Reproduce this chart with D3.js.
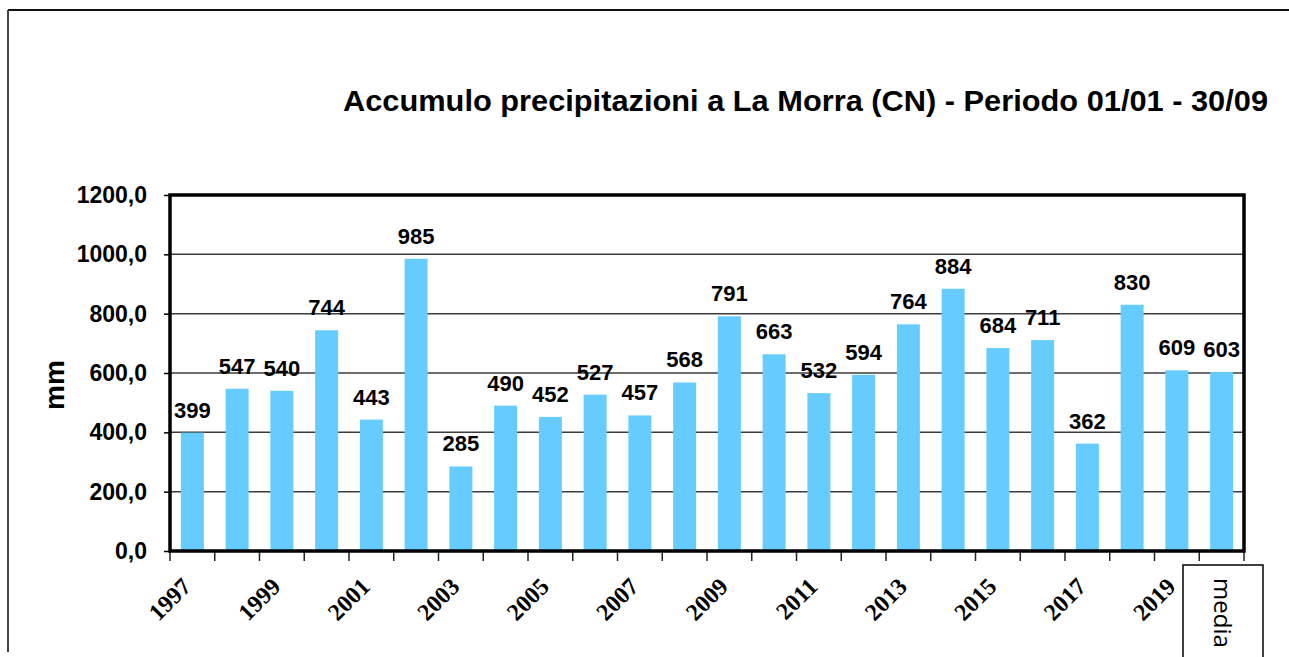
<!DOCTYPE html>
<html>
<head>
<meta charset="utf-8">
<script src="https://cdn.jsdelivr.net/npm/d3@7"></script>
<style>
  body { margin: 0; background: #fff; }
  svg { display: block; }
</style>
</head>
<body>
<svg class="chart-pioggia" width="1289" height="657"></svg>
<script>
//------------------------------------------------------------
//---------------------------DATI-----------------------------
var anni = ["1997","1998","1999","2000","2001","2002","2003","2004","2005","2006",
            "2007","2008","2009","2010","2011","2012","2013","2014","2015","2016",
            "2017","2018","2019","media"];
var valori = [399, 547, 540, 744, 443, 985, 285, 490, 452, 527,
              457, 568, 791, 663, 532, 594, 764, 884, 684, 711,
              362, 830, 609, 603];
var tickY = [0, 200, 400, 600, 800, 1000, 1200];
var titolo = "Accumulo precipitazioni a La Morra (CN) - Periodo 01/01 - 30/09";
var etichettaY = "mm";

var dataset = anni.map(function(a, i) { return {anno: a, mm: valori[i]}; });

var svg = d3.select(".chart-pioggia");
var area = {left: 170, right: 1244, top: 195, bottom: 551};

var xScale = d3.scaleBand().domain(anni).range([area.left, area.right]).padding(0);
var yScale = d3.scaleLinear().domain([0, 1200]).range([area.bottom, area.top]);

var formatoY = function(d) { return d3.format(".1f")(d).replace(".", ","); };

//cornice esterna
svg.append("line").attr("x1", 8).attr("x2", 1289).attr("y1", 10).attr("y2", 10)
  .attr("stroke", "#111").attr("stroke-width", 2);
svg.append("line").attr("x1", 8).attr("x2", 8).attr("y1", 10).attr("y2", 652)
  .attr("stroke", "#444").attr("stroke-width", 2);

//titolo
svg.append("text")
  .attr("x", 343).attr("y", 111)
  .attr("font-family", "Liberation Sans, Arial, sans-serif")
  .attr("font-weight", "bold")
  .attr("font-size", "30px")
  .attr("textLength", 925)
  .attr("lengthAdjust", "spacingAndGlyphs")
  .attr("fill", "#000")
  .text(titolo);

//griglia orizzontale
svg.append("g").selectAll("line")
  .data(tickY.filter(function(d) { return d > 0 && d < 1200; }))
  .enter()
  .append("line")
  .attr("x1", area.left).attr("x2", area.right)
  .attr("y1", function(d) { return yScale(d); })
  .attr("y2", function(d) { return yScale(d); })
  .attr("stroke", "#3c3c3c")
  .attr("stroke-width", 1.5);

//asse Y
var yAxis = d3.axisLeft(yScale).tickValues(tickY).tickFormat(formatoY).tickSize(6).tickPadding(17);
var gY = svg.append("g").attr("transform", "translate(" + area.left + ",0)").call(yAxis);
gY.select(".domain").remove();
gY.selectAll(".tick line").attr("stroke", "#000").attr("stroke-width", 1.5);
gY.selectAll(".tick text")
  .attr("font-family", "Liberation Sans, Arial, sans-serif")
  .attr("font-weight", "bold")
  .attr("font-size", "23px")
  .attr("fill", "#000");

//asse X (tacche ai bordi delle bande)
var confini = anni.map(function(a) { return xScale(a); }).concat([area.right]);
svg.append("g").selectAll("line")
  .data(confini)
  .enter()
  .append("line")
  .attr("x1", function(d) { return d; }).attr("x2", function(d) { return d; })
  .attr("y1", area.bottom).attr("y2", area.bottom + 10)
  .attr("stroke", "#222").attr("stroke-width", 1.5);

//etichette anni, una si e una no
svg.append("g").selectAll("text")
  .data(dataset.filter(function(d, i) { return i % 2 == 0 && d.anno != "media"; }))
  .enter()
  .append("text")
  .attr("transform", function(d) {
    return "translate(" + (xScale(d.anno) + xScale.bandwidth() / 2) + "," + 588 + ") rotate(-45)";
  })
  .attr("text-anchor", "end")
  .attr("font-family", "Liberation Serif, Times New Roman, serif")
  .attr("font-weight", "bold")
  .attr("font-size", "24px")
  .attr("fill", "#000")
  .text(function(d) { return d.anno; });

//barre
var larghezzaBarra = 23;
svg.append("g").selectAll("rect")
  .data(dataset)
  .enter()
  .append("rect")
  .attr("x", function(d) { return xScale(d.anno) + (xScale.bandwidth() - larghezzaBarra) / 2; })
  .attr("y", function(d) { return yScale(d.mm); })
  .attr("width", larghezzaBarra)
  .attr("height", function(d) { return area.bottom - yScale(d.mm); })
  .attr("fill", "#66ccff");

//valori sopra le barre
svg.append("g").selectAll("text")
  .data(dataset)
  .enter()
  .append("text")
  .attr("x", function(d) { return xScale(d.anno) + xScale.bandwidth() / 2; })
  .attr("y", function(d) { return yScale(d.mm) - 15; })
  .attr("text-anchor", "middle")
  .attr("font-family", "Liberation Sans, Arial, sans-serif")
  .attr("font-weight", "bold")
  .attr("font-size", "22px")
  .attr("fill", "#000")
  .text(function(d) { return d.mm; });

//bordo area del grafico
svg.append("rect")
  .attr("x", area.left).attr("y", area.top)
  .attr("width", area.right - area.left).attr("height", area.bottom - area.top)
  .attr("fill", "none").attr("stroke", "#000").attr("stroke-width", 3.5);

//etichetta asse Y
svg.append("text")
  .attr("transform", "translate(64,385) rotate(-90)")
  .attr("text-anchor", "middle")
  .attr("font-family", "Liberation Sans, Arial, sans-serif")
  .attr("font-weight", "bold")
  .attr("font-size", "28px")
  .attr("fill", "#000")
  .text(etichettaY);

//riquadro "media"
var ultima = anni[anni.length - 1];
svg.append("rect")
  .attr("x", 1183).attr("y", 565).attr("width", 80).attr("height", 120)
  .attr("fill", "#fff").attr("stroke", "#000").attr("stroke-width", 1.5);
svg.append("text")
  .attr("transform", "translate(" + (xScale(ultima) + xScale.bandwidth() / 2 - 8) + ",578) rotate(90)")
  .attr("text-anchor", "start")
  .attr("font-family", "Open Sans, Noto Sans, sans-serif")
  .attr("font-size", "24px")
  .attr("fill", "#000")
  .text(ultima);
</script>
</body>
</html>
